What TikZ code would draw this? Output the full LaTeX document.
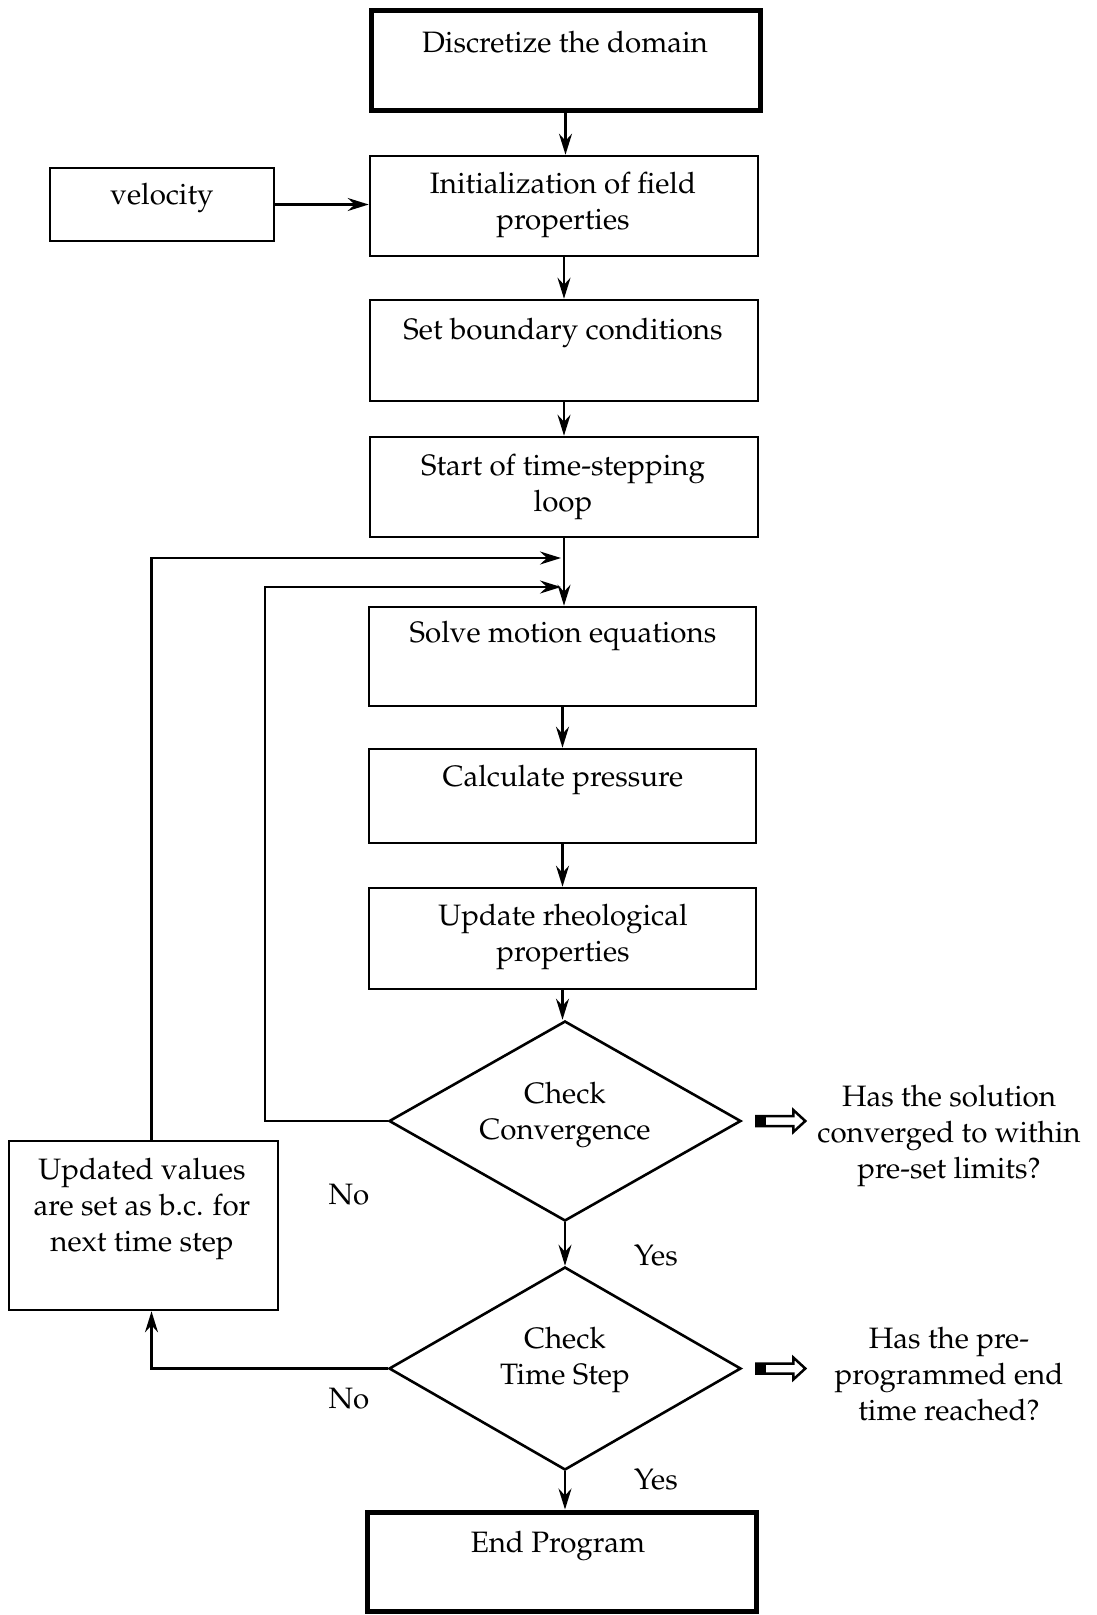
\documentclass[tikz,border=0pt]{standalone}
\usepackage[T1]{fontenc}
\usepackage{mathpazo}
\usetikzlibrary{shapes.geometric,arrows.meta}
\begin{document}
\begin{tikzpicture}[x=1pt,y=-1pt,
  box/.style={draw, line width=2.6pt, inner sep=0pt, minimum width=388pt, minimum height=100pt},
  thickbox/.style={box, line width=5pt},
  dia/.style={draw, diamond, line width=2.6pt, inner sep=0pt, minimum width=352pt, minimum height=200pt},
  txt/.style={font=\fontsize{29.5}{36}\selectfont, align=center, inner sep=0pt},
  arr/.style={line width=2.2pt, -{Stealth[length=21pt,width=13pt,inset=7pt]}},
  ln/.style={line width=2.5pt},
]
\useasboundingbox (0,0) rectangle (1096,1615);

% boxes
\node[thickbox, minimum width=389pt] (disc) at (565.5,60) {};
\node[box] (init) at (564,206) {};
\node[box, minimum width=224pt, minimum height=73pt] (vel) at (162,204.5) {};
\node[box, minimum height=101pt] (setb) at (564,350.5) {};
\node[box] (start) at (564,487) {};
\node[box, minimum width=387pt, minimum height=99pt] (solve) at (562.5,656.5) {};
\node[box, minimum width=387pt, minimum height=94pt] (calc) at (562.5,796) {};
\node[box, minimum width=387pt, minimum height=101pt] (rheo) at (562.5,938.5) {};
\node[dia] (d1) at (565,1121) {};
\node[dia, minimum height=203pt] (d2) at (565,1368.5) {};
\node[thickbox, minimum width=389pt, minimum height=99pt] (endp) at (561.5,1561.5) {};
\node[box, minimum width=269pt, minimum height=169pt] (updv) at (143.5,1225.5) {};

% texts
\node[txt] (tdisc) at (565,42) {Discretize the domain};
\node[txt] (tinit) at (563,205) {Initialization of field\\properties};
\node[txt] (tvel) at (162,198) {velocity};
\node[txt] (tsetb) at (563,333) {Set boundary conditions};
\node[txt] (tstart) at (563,487) {Start of time-stepping\\loop};
\node[txt] (tsolve) at (563,636) {Solve motion equations};
\node[txt] (tcalc) at (563,780) {Calculate pressure};
\node[txt] (trheo) at (563,937) {Update rheological\\properties};
\node[txt] (td1) at (565,1115) {Check\\Convergence};
\node[txt] (td2) at (565,1360) {Check\\Time Step};
\node[txt] (tend) at (558,1546) {End Program};
\node[txt] (tupdv) at (142,1209) {Updated values\\are set as b.c. for\\next time step};
\node[txt] (q1) at (949,1136) {Has the solution\\converged to within\\pre-set limits?};
\node[txt] (q2) at (949,1374) {Has the pre-\\programmed end\\time reached?};
\node[txt] (no1) at (349,1195) {No};
\node[txt] (yes1) at (656,1256) {Yes};
\node[txt] (no2) at (349,1399) {No};
\node[txt] (yes2) at (656,1480) {Yes};

% main connectors
\draw[arr] (disc.south) -- (disc.south |- init.north);
\draw[arr] (vel.east) -- (vel.east -| init.west);
\draw[arr] (init.south) -- (init.south |- setb.north);
\draw[arr] (setb.south) -- (setb.south |- start.north);
\draw[arr] (start.south) -- (start.south |- solve.north);
\draw[arr] (solve.south) -- (solve.south |- calc.north);
\draw[arr] (calc.south) -- (calc.south |- rheo.north);
\draw[arr] (rheo.south) -- (rheo.south |- d1.north);
\draw[arr] (d1.south) -- (d1.south |- d2.north);
\draw[arr] (d2.south) -- (d2.south |- endp.north);

% loops
\coordinate (m1) at (561,558);
\coordinate (m2) at (561,587);
\draw[arr] ([xshift=8pt]updv.north) |- (m1);
\draw[arr] (d1.west) -| (265,900) |- (m2);
\draw[arr] (d2.west) -| ([xshift=8pt]updv.south);

% hollow arrows
\foreach \d in {d1,d2}{
  \begin{scope}[shift={(\d.east)}]
    \fill (14,-6) rectangle (24,6);
    \draw[ln, line join=miter] (14,-5) -- (51,-5) -- (51,-11) -- (63,0) -- (51,11) -- (51,5) -- (14,5) -- cycle;
  \end{scope}
}
\end{tikzpicture}
\end{document}
